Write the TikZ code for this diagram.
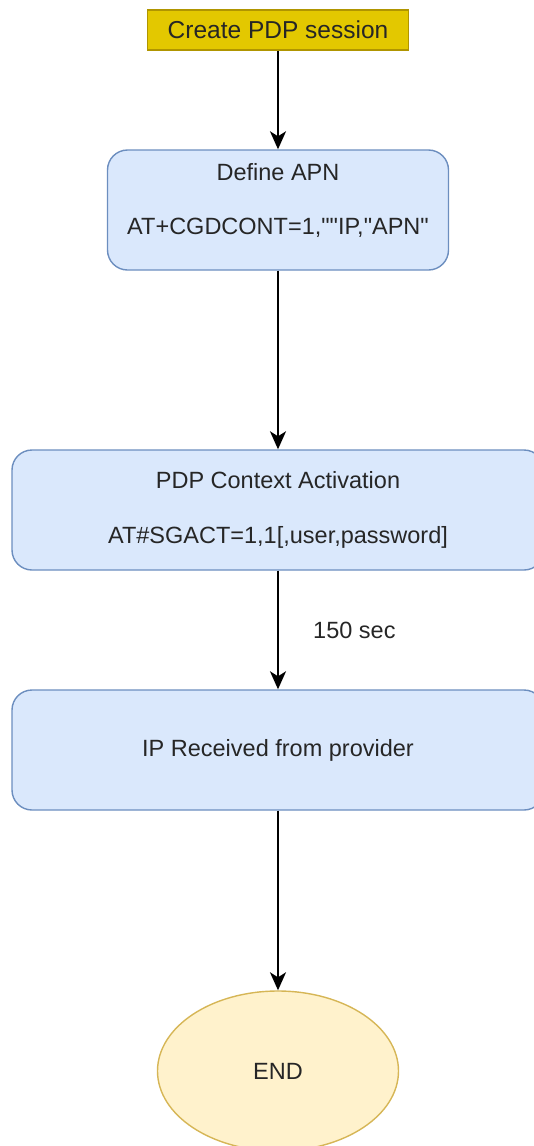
\documentclass[tikz,border=0pt]{standalone}
\usepackage{fontspec}
\setmainfont{Liberation Sans}
\usetikzlibrary{shapes.geometric,arrows.meta}
\definecolor{startfill}{HTML}{E3C800}
\definecolor{startdraw}{HTML}{B09500}
\definecolor{bluefill}{HTML}{DAE8FC}
\definecolor{bluedraw}{HTML}{6C8EBF}
\definecolor{endfill}{HTML}{FFF2CC}
\definecolor{enddraw}{HTML}{D6B656}
\tikzset{
  txt/.style={font=\fontsize{23.5}{28}\selectfont, text=black!85},
  startbox/.style={draw=startdraw, fill=startfill, line width=1.2pt,
    font=\fontsize{24.5}{28}\selectfont, text=black!85,
    minimum width=261pt, minimum height=40pt, inner sep=0pt},
  procbox/.style={txt, draw=bluedraw, fill=bluefill, line width=1.4pt,
    rounded corners=20pt, align=center, inner sep=0pt},
  endnode/.style={txt, ellipse, draw=enddraw, fill=endfill, line width=1.4pt,
    minimum width=241pt, minimum height=160pt, inner sep=0pt},
  flow/.style={line width=1.8pt, -{Stealth[length=18pt,width=16pt,inset=5pt]}},
  lbl/.style={txt}
}
\begin{document}
\begin{tikzpicture}[x=1pt,y=-1pt]
\useasboundingbox (0,0) rectangle (534,1146);
\node[startbox] (start) at (278,30) {Create PDP session};
\node[procbox, minimum width=341pt, minimum height=120pt] (apn) at (278,210)
  {Define APN\\[26pt]AT+CGDCONT=1,\textquotedbl\textquotedbl IP,\textquotedbl APN\textquotedbl\\[-14pt]\strut};
\node[procbox, minimum width=532pt, minimum height=120pt] (act) at (278,510)
  {PDP Context Activation\\[27pt]AT\#SGACT=1,1[,user,password]};
\node[procbox, minimum width=532pt, minimum height=120pt] (ip) at (278,750)
  {IP Received from provider};
\node[endnode] (end) at (278,1071) {END};
\draw[flow] (start) -- (apn);
\draw[flow] (apn) -- (act);
\draw[flow] (act) -- node[lbl, right=31pt, pos=0.5] (wait) {150 sec} (ip);
\draw[flow] (ip) -- (end);
\end{tikzpicture}
\end{document}
